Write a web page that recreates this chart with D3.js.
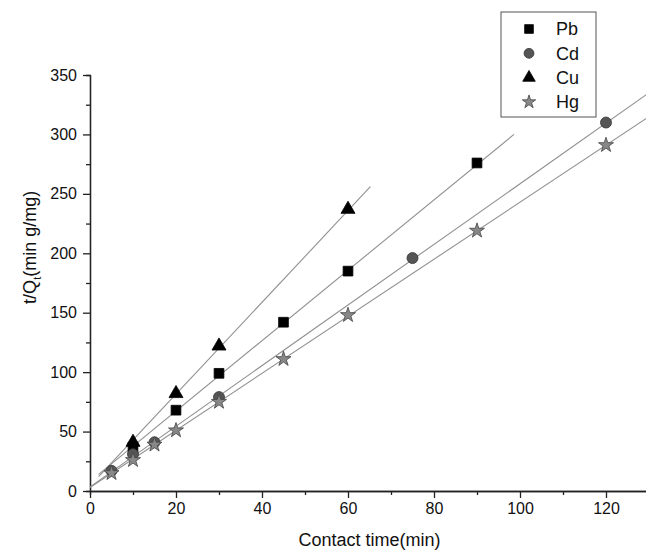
<!DOCTYPE html>
<meta charset="utf-8">
<script src="https://d3js.org/d3.v7.min.js"></script>
<style>
  body { margin: 0; background: #fff; }
  text { font-family: "Liberation Sans", Arial, sans-serif; fill: #111; }
</style>
<body>
<div id="chart"></div>
<script>
  // ---- data ----
  const metals = ["Pb", "Cd", "Cu", "Hg"]

  const pbTime = [10, 20, 30, 45, 60, 90]
  const pbVal  = [37, 68, 99, 142, 185, 276]

  const cdTime = [5, 10, 15, 30, 75, 120]
  const cdVal  = [17, 31, 41, 79, 196, 310]

  const cuTime = [10, 20, 30, 60]
  const cuVal  = [41, 82, 122, 237]

  const hgTime = [5, 10, 15, 20, 30, 45, 60, 90, 120]
  const hgVal  = [15, 26, 39, 51, 75, 111, 148, 219, 291]

  // fitted lines: [t start, value start, t end, value end]
  const pbFit = [2, 14, 98.6, 300]
  const cdFit = [0, 3.5, 130, 335]
  const cuFit = [2, 12, 65.2, 256]
  const hgFit = [0, 3, 130, 315]

  const xTicks = [0, 20, 40, 60, 80, 100, 120]
  const yTicks = [0, 50, 100, 150, 200, 250, 300, 350]

  const W = 646, H = 551

  const svg = d3.select("#chart").append("svg")
    .attr("width", W).attr("height", H)

  const x = d3.scaleLinear().domain([0, 130]).range([90, 649])
  const y = d3.scaleLinear().domain([0, 350]).range([491, 75])

  // minor ticks
  svg.append("g")
    .attr("transform", "translate(0,491)")
    .call(d3.axisBottom(x).tickValues(d3.range(10, 130, 20)).tickSize(4).tickFormat(""))
  svg.append("g")
    .attr("transform", "translate(90,0)")
    .call(d3.axisLeft(y).tickValues(d3.range(25, 350, 50)).tickSize(4).tickFormat(""))

  // major axes
  svg.append("g")
    .attr("transform", "translate(0,491)")
    .call(d3.axisBottom(x).tickValues(xTicks).tickSize(7).tickSizeOuter(0).tickPadding(5))
  svg.append("g")
    .attr("transform", "translate(90,0)")
    .call(d3.axisLeft(y).tickValues(yTicks).tickSize(7).tickSizeOuter(0).tickPadding(6))

  svg.selectAll(".domain").attr("stroke", "#222").attr("stroke-width", 1.3)
  svg.selectAll(".tick line").attr("stroke", "#222").attr("stroke-width", 1.3)
  svg.selectAll(".tick text").style("font-size", "16px").attr("fill", "#111")

  // axis titles
  svg.append("text")
    .attr("x", x(65)).attr("y", 546)
    .attr("text-anchor", "middle")
    .style("font-size", "18px")
    .text("Contact time(min)")

  const yt = svg.append("text")
    .attr("transform", "translate(36," + y(205) + ") rotate(-90)")
    .attr("text-anchor", "middle")
    .style("font-size", "18px")
  yt.append("tspan").text("t/Q")
  yt.append("tspan").attr("dy", 5).style("font-size", "11px").text("t")
  yt.append("tspan").attr("dy", -5).text("(min g/mg)")

  // fitted lines
  const fits = [pbFit, cdFit, cuFit, hgFit]
  svg.append("g").selectAll("line")
    .data(fits)
    .join("line")
      .attr("x1", d => x(d[0])).attr("y1", d => y(d[1]))
      .attr("x2", d => x(d[2])).attr("y2", d => y(d[3]))
      .attr("stroke", "#909090")
      .attr("stroke-width", 1.1)

  // marker styles
  const style = {
    Pb: { sym: d3.symbolSquare,   size: 95,  fill: "#000",    stroke: "#000" },
    Cd: { sym: d3.symbolCircle,   size: 95,  fill: "#555",    stroke: "#333" },
    Cu: { sym: d3.symbolTriangle, size: 85,  fill: "#000",    stroke: "#000" },
    Hg: { sym: d3.symbolStar,     size: 70,  fill: "#888",    stroke: "#444" }
  }

  const series = [
    { name: "Pb", t: pbTime, v: pbVal },
    { name: "Cd", t: cdTime, v: cdVal },
    { name: "Cu", t: cuTime, v: cuVal },
    { name: "Hg", t: hgTime, v: hgVal }
  ]

  series.forEach(s => {
    const st = style[s.name]
    svg.append("g").selectAll("path")
      .data(s.t.map((t, i) => [t, s.v[i]]))
      .join("path")
        .attr("d", d3.symbol().type(st.sym).size(st.size))
        .attr("transform", d => "translate(" + x(d[0]) + "," + y(d[1]) + ")")
        .attr("fill", st.fill)
        .attr("stroke", st.stroke)
        .attr("stroke-width", 0.8)
  })

  // legend
  const lg = svg.append("g")
  lg.append("rect")
    .attr("x", 501).attr("y", 12)
    .attr("width", 95).attr("height", 105)
    .attr("fill", "#fff").attr("stroke", "#555").attr("stroke-width", 1)

  const rowY = d3.scalePoint().domain(metals).range([29, 102])
  metals.forEach(m => {
    const st = style[m]
    lg.append("path")
      .attr("d", d3.symbol().type(st.sym).size(st.size * 0.8))
      .attr("transform", "translate(529," + rowY(m) + ")")
      .attr("fill", st.fill).attr("stroke", st.stroke).attr("stroke-width", 0.8)
    lg.append("text")
      .attr("x", 556).attr("y", rowY(m))
      .attr("dy", "0.36em")
      .style("font-size", "18px")
      .text(m)
  })
</script>
</body>
